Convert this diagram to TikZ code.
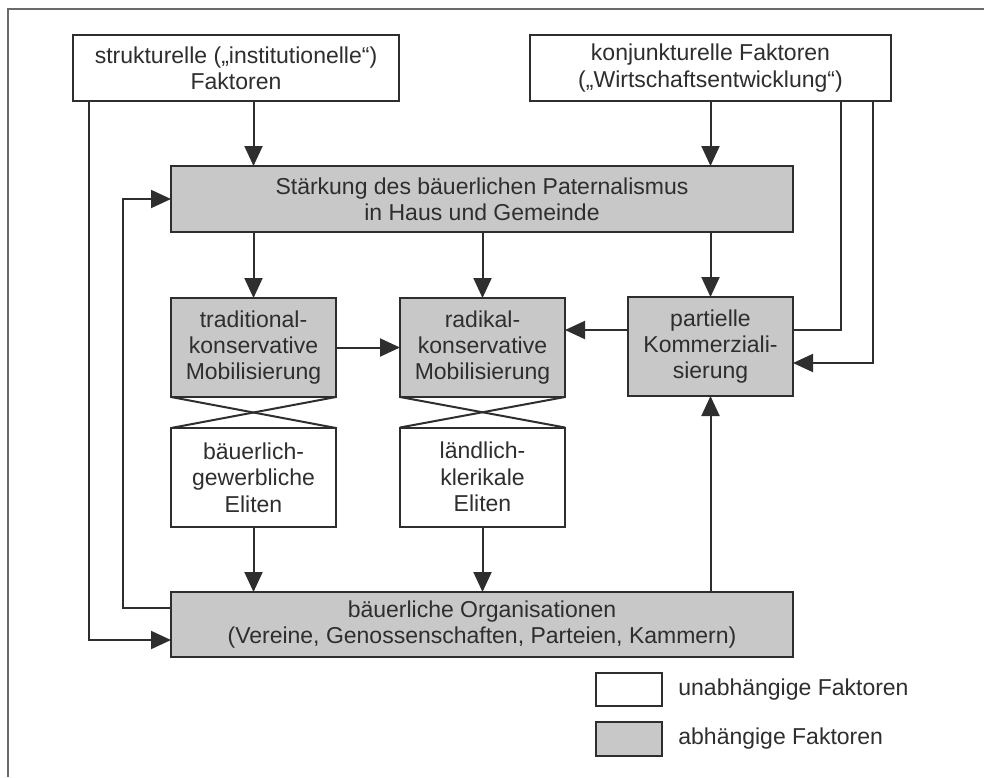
\documentclass[tikz,border=0pt]{standalone}
\usepackage{fontspec}
\setmainfont{Liberation Sans}
\usetikzlibrary{arrows.meta}
\definecolor{ink}{HTML}{2E2E2E}
\definecolor{boxgray}{HTML}{C8C8C8}
\definecolor{framegray}{HTML}{6A6A6A}
\tikzset{
  base/.style={draw=ink, line width=1pt, text=ink, align=center, inner sep=0pt, outer sep=0pt,
    font=\fontsize{11.5pt}{13.2pt}\selectfont},
  indep/.style={base, fill=white},
  dep/.style={base, fill=boxgray},
  conn/.style={draw=ink, line width=1pt},
  arr/.style={conn, -{Triangle[length=10pt,width=9pt]}},
  legtext/.style={text=ink, anchor=west, inner sep=0pt, font=\fontsize{11.5pt}{13.2pt}\selectfont}
}
\begin{document}
\begin{tikzpicture}[x=0.5pt,y=-0.5pt]
\useasboundingbox (0,0) rectangle (984,777);
\draw[framegray, line width=1pt] (984,9) -- (8,9) -- (8,777);

\node[indep, minimum width=163pt, minimum height=33pt] (A) at (236,68)
  {strukturelle („institutionelle“)\\Faktoren};
\node[indep, minimum width=180.5pt, minimum height=33pt] (B) at (710.5,68)
  {konjunkturelle Faktoren\\(„Wirtschaftsentwicklung“)};
\node[dep, minimum width=311pt, minimum height=33pt] (S) at (482,199)
  {Stärkung des bäuerlichen Paternalismus\\in Haus und Gemeinde};
\node[dep, minimum width=82.5pt, minimum height=49.5pt] (T) at (253.5,347.5)
  {traditional-\\konservative\\Mobilisierung};
\node[dep, minimum width=82.5pt, minimum height=49.5pt] (R) at (482.5,347.5)
  {radikal-\\konservative\\Mobilisierung};
\node[dep, minimum width=82.5pt, minimum height=49.5pt] (P) at (710.5,346.5)
  {partielle\\Kommerziali-\\sierung};
\node[indep, minimum width=82.5pt, minimum height=49.5pt] (E1) at (253.5,477.5)
  {bäuerlich-\\gewerbliche\\Eliten};
\node[indep, minimum width=82.5pt, minimum height=49.5pt] (E2) at (482.5,477)
  {ländlich-\\klerikale\\Eliten};
\node[dep, minimum width=311pt, minimum height=32.5pt] (O) at (482,624.5)
  {bäuerliche Organisationen\\(Vereine, Genossenschaften, Parteien, Kammern)};

% legend
\node[indep, minimum width=33pt, minimum height=16.5pt] (L1) at (629,689.5) {};
\node[dep, minimum width=33pt, minimum height=17pt] (L2) at (629,739) {};
\node[legtext] (L1t) at (678,690) {unabhängige Faktoren};
\node[legtext] (L2t) at (678,739) {abhängige Faktoren};

% arrows
\draw[arr] (A.south -| T) -- (S.north -| T);
\draw[arr] (B.south) -- (S.north -| B);
\draw[arr] (S.south -| T) -- (T.north);
\draw[arr] (S.south -| R) -- (R.north);
\draw[arr] (S.south -| P) -- (P.north);
\draw[arr] (T.east) -- (R.west);
\draw[arr] (P.west |- 0,330) -- (R.east |- 0,330);
\draw[conn] (B.south -| 841,0) -- (841,330) -- (P.east |- 0,330);
\draw[arr] (B.south -| 873,0) -- (873,363) -- (P.east |- 0,363);
\draw[arr] (O.north -| P) -- (P.south);
\draw[arr] (E1.south) -- (O.north -| E1);
\draw[arr] (E2.south) -- (O.north -| E2);
\draw[arr] (A.south -| 89,0) -- (89,640) -- (O.west |- 0,640);
\draw[arr] (O.west |- 0,608) -- (123,608) -- (123,199) -- (S.west);
\draw[conn] (T.south west) -- (E1.north east);
\draw[conn] (T.south east) -- (E1.north west);
\draw[conn] (R.south west) -- (E2.north east);
\draw[conn] (R.south east) -- (E2.north west);
\end{tikzpicture}
\end{document}
